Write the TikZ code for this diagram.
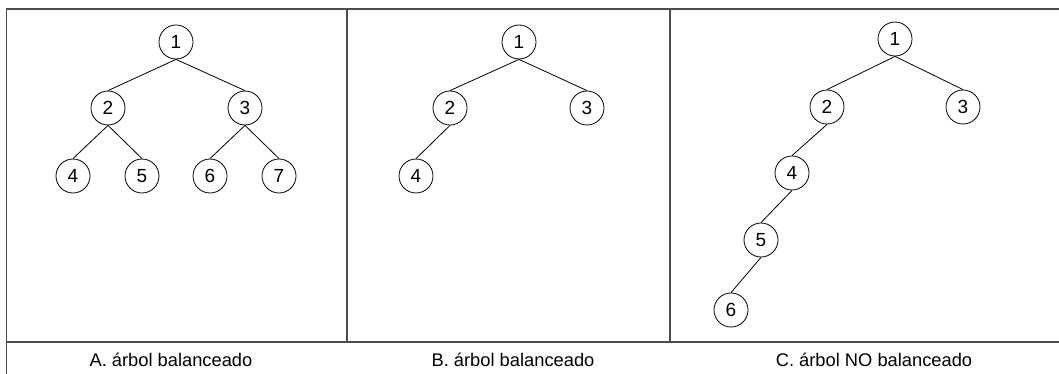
\documentclass[tikz,border=0pt]{standalone}
\usepackage{fontspec}
\setmainfont{Liberation Sans}
\begin{document}
\begin{tikzpicture}[x=1pt,y=-1pt,
  nd/.style={circle,draw=black,line width=0.8pt,minimum size=34pt,inner sep=0pt,font=\fontsize{19}{22}\selectfont},
  edge/.style={draw=black,line width=0.8pt},
  frame/.style={draw=black!70,line width=1.5pt},
  lbl/.style={anchor=base,inner sep=0pt,font=\fontsize{18.3}{21}\selectfont}]
\useasboundingbox (0,0) rectangle (1059,374);
% frame
\coordinate (tl) at (6.5,9);
\coordinate (tr) at (1059,9);
\coordinate (bl) at (6.5,374);
\coordinate (ml) at (6.5,342);
\coordinate (mr) at (1059,342);
\coordinate (d1t) at (347,9);
\coordinate (d1b) at (347,342);
\coordinate (d2t) at (670,9);
\coordinate (d2b) at (670,342);
\draw[frame] (tr) -- (tl) -- (bl);
\draw[frame] (ml) -- (mr);
\draw[frame] (d1t) -- (d1b);
\draw[frame] (d2t) -- (d2b);
% tree A
\node[nd] (a1) at (176,42) {1};
\node[nd] (a2) at (108,108) {2};
\node[nd] (a3) at (245,108) {3};
\node[nd] (a4) at (73,176) {4};
\node[nd] (a5) at (142,176) {5};
\node[nd] (a6) at (210,176) {6};
\node[nd] (a7) at (279,176) {7};
\draw[edge] (a1.south) -- (a2.north);
\draw[edge] (a1.south) -- (a3.north);
\draw[edge] (a2.south) -- (a4.north);
\draw[edge] (a2.south) -- (a5.north);
\draw[edge] (a3.south) -- (a6.north);
\draw[edge] (a3.south) -- (a7.north);
% tree B
\node[nd] (b1) at (519,42) {1};
\node[nd] (b2) at (450,108) {2};
\node[nd] (b3) at (587,108) {3};
\node[nd] (b4) at (416,176) {4};
\draw[edge] (b1.south) -- (b2.north);
\draw[edge] (b1.south) -- (b3.north);
\draw[edge] (b2.south) -- (b4.north);
% tree C
\node[nd] (c1) at (895,39) {1};
\node[nd] (c2) at (827,107) {2};
\node[nd] (c3) at (963,107) {3};
\node[nd] (c4) at (792,173) {4};
\node[nd] (c5) at (761,240) {5};
\node[nd] (c6) at (731,310) {6};
\draw[edge] (c1.south) -- (c2.north);
\draw[edge] (c1.south) -- (c3.north);
\draw[edge] (c2.south) -- (c4.north);
\draw[edge] (c4.south) -- (c5.north);
\draw[edge] (c5.south) -- (c6.north);
% labels
\node[lbl] (la) at (171,366) {A. árbol balanceado};
\node[lbl] (lb) at (513,366) {B. árbol balanceado};
\node[lbl] (lc) at (874,366) {C. árbol NO balanceado};
\end{tikzpicture}
\end{document}
